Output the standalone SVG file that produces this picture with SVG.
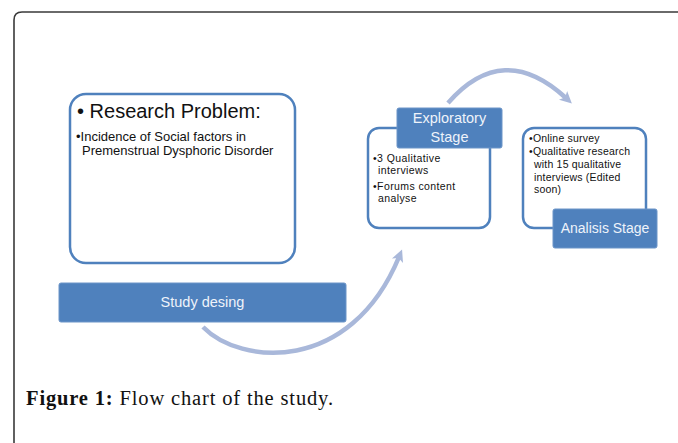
<svg xmlns="http://www.w3.org/2000/svg" width="678" height="443" viewBox="0 0 678 443">
<style>
.outline{fill:#fff;stroke:#4F81BD;stroke-width:2.5}
.label{fill:#4F81BD;stroke:#6C95C8;stroke-width:1}
.sans{font-family:"Liberation Sans",Arial,sans-serif}
.dark{fill:#111}
.white{fill:#EEF3FA}
.arc{fill:none;stroke:#A9B8DA;stroke-width:4.5}
.cap{font-family:"Liberation Serif","Times New Roman",serif;font-size:20.5px;fill:#111}
</style>
<defs>
<marker id="ah" markerUnits="userSpaceOnUse" markerWidth="14" markerHeight="14" refX="4" refY="7" orient="auto">
<path d="M0,1 L12,7 L0,13 L3,7 Z" fill="#A9B8DA"/>
</marker>
</defs>
<rect width="678" height="443" fill="#fff"/>
<path d="M14,443 V20 Q14,12 22,12 H678" fill="none" stroke="#3a3a3a" stroke-width="1.6"/>

<g id="connectors">
<path class="arc" d="M448,103 Q503,40 566,98" marker-end="url(#ah)"/>
<path class="arc" d="M203,327 C240,365 350,375 399,257" marker-end="url(#ah)"/>
</g>

<g id="research-problem">
<rect class="outline" x="70" y="94" width="225" height="169" rx="16"/>
<text class="sans dark" x="77" y="118" font-size="20">• Research Problem:</text>
<text class="sans dark" x="76" y="141" font-size="13">•Incidence of Social factors in</text>
<text class="sans dark" x="82" y="155" font-size="13">Premenstrual Dysphoric Disorder</text>
</g>

<g id="study-design">
<rect class="label" x="59" y="283" width="287" height="39" rx="2"/>
<text class="sans white" x="202.5" y="307" font-size="14.5" text-anchor="middle">Study desing</text>
</g>

<g id="exploratory-stage">
<rect class="outline" x="368" y="128" width="122" height="100" rx="11"/>
<rect class="label" x="397" y="108" width="105" height="40" rx="2"/>
<text class="sans white" x="449.5" y="123" font-size="14.5" text-anchor="middle">Exploratory</text>
<text class="sans white" x="449.5" y="142" font-size="14.5" text-anchor="middle">Stage</text>
<text class="sans dark" x="373" y="162" font-size="10.5" letter-spacing="0.4">•3 Qualitative</text>
<text class="sans dark" x="378" y="174" font-size="10.5" letter-spacing="0.4">interviews</text>
<text class="sans dark" x="373" y="190" font-size="10.5" letter-spacing="0.4">•Forums content</text>
<text class="sans dark" x="378" y="202" font-size="10.5" letter-spacing="0.4">analyse</text>
</g>

<g id="analisis-stage">
<rect class="outline" x="523" y="128" width="123" height="100" rx="11"/>
<rect class="label" x="553" y="209" width="104" height="39" rx="2"/>
<text class="sans white" x="605" y="233" font-size="14" text-anchor="middle">Analisis Stage</text>
<text class="sans dark" x="529" y="142" font-size="10.5" letter-spacing="0.2">•Online survey</text>
<text class="sans dark" x="529" y="155" font-size="10.5" letter-spacing="0.2">•Qualitative research</text>
<text class="sans dark" x="534" y="168" font-size="10.5" letter-spacing="0.2">with 15 qualitative</text>
<text class="sans dark" x="534" y="181" font-size="10.5" letter-spacing="0.2">interviews (Edited</text>
<text class="sans dark" x="534" y="193" font-size="10.5" letter-spacing="0.2">soon)</text>
</g>

<g id="caption">
<text class="cap" x="26" y="405" textLength="307" lengthAdjust="spacing"><tspan font-weight="bold">Figure 1:</tspan> Flow chart of the study.</text>
</g>
</svg>
